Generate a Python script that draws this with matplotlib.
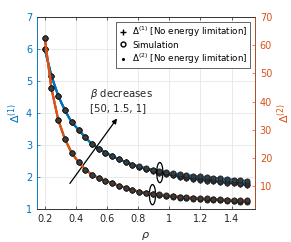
import numpy as np
import matplotlib
matplotlib.use('Agg')
import matplotlib.pyplot as plt
from matplotlib.lines import Line2D
from matplotlib.patches import Ellipse

# rho sample points
rho = [0.2, 0.243, 0.287, 0.33, 0.373, 0.417, 0.46, 0.503, 0.547, 0.59,
       0.633, 0.677, 0.72, 0.763, 0.807, 0.85, 0.893, 0.937, 0.98, 1.023,
       1.067, 1.11, 1.153, 1.197, 1.24, 1.283, 1.327, 1.37, 1.413, 1.457, 1.5]

# Delta^(1) (left axis), beta = 50, 1.5, 1
d1_common = [6.0, 5.16, 4.53, 4.08, 3.71, 3.48, 3.24, 3.03, 2.89, 2.76,
             2.66, 2.55, 2.47, 2.39]
d1_b50 = d1_common + [2.31, 2.25, 2.19, 2.14, 2.09, 2.05, 2.01, 1.98, 1.95,
                      1.92, 1.89, 1.87, 1.84, 1.82, 1.80, 1.78, 1.75]
d1_b15 = d1_common + [2.32, 2.26, 2.21, 2.16, 2.12, 2.08, 2.04, 2.01, 1.98,
                      1.96, 1.93, 1.91, 1.89, 1.87, 1.85, 1.83, 1.81]
d1_b1 = d1_common + [2.33, 2.28, 2.23, 2.19, 2.15, 2.12, 2.09, 2.06, 2.04,
                     2.02, 2.0, 1.98, 1.96, 1.94, 1.92, 1.90, 1.88]

# Delta^(2) (right axis), beta = 50, 1.5, 1
d2_common = [62.6, 44.7, 33.5, 26.7, 21.9, 18.6, 16.0, 14.2, 13.0, 12.0,
             11.2, 10.2, 9.6, 8.8]
d2_b50 = d2_common + [8.0, 7.6, 7.2, 6.9, 6.6, 6.35, 6.1, 5.9, 5.7,
                      5.5, 5.35, 5.2, 5.05, 4.9, 4.8, 4.65, 4.5]
d2_b15 = d2_common + [8.1, 7.7, 7.35, 7.05, 6.75, 6.5, 6.25, 6.05, 5.85,
                      5.7, 5.55, 5.4, 5.25, 5.1, 5.0, 4.9, 4.8]
d2_b1 = d2_common + [8.2, 7.8, 7.5, 7.2, 6.9, 6.65, 6.45, 6.25, 6.05,
                     5.9, 5.75, 5.6, 5.5, 5.35, 5.25, 5.15, 5.05]

blue = '#0072BD'
orange = '#D95319'
dark = '#262626'

plt.rcParams['font.family'] = 'DejaVu Sans'
fig = plt.figure(figsize=(2.91, 2.42), dpi=100)
ax = fig.add_axes([0.127, 0.136, 0.749, 0.794])
ax2 = ax.twinx()

mk = dict(marker='o', ms=3.7, mec='#1a1a1a', mfc='#3c3c3c', mew=0.6, ls='none', zorder=5)

for y in [d1_b50, d1_b15, d1_b1]:
    ax.plot(rho, y, color=blue, lw=1.5, zorder=3)
ax.plot(rho, d1_b50, marker='+', color='k', ls='none', ms=4, zorder=4)
for y in [d1_b50, d1_b15, d1_b1]:
    ax.plot(rho, y, **mk)

for y in [d2_b50, d2_b15, d2_b1]:
    ax2.plot(rho, y, color=orange, lw=1.5, zorder=3)
ax2.plot(rho, d2_b50, marker='.', color='k', ls='none', ms=3, zorder=4)
for y in [d2_b50, d2_b15, d2_b1]:
    ax2.plot(rho, y, **mk)

ax.set_xlim(0.15, 1.55)
ax.set_ylim(1, 7)
ax2.set_ylim(2, 70)
ax.set_xticks([0.2, 0.4, 0.6, 0.8, 1, 1.2, 1.4])
ax.set_xticklabels(['0.2', '0.4', '0.6', '0.8', '1', '1.2', '1.4'])
ax.set_yticks([1, 2, 3, 4, 5, 6, 7])
ax2.set_yticks([10, 20, 30, 40, 50, 60, 70])

ax.grid(True, color='#e6e6e6', lw=0.6)
ax.set_axisbelow(True)

fs = 7
ax.tick_params(axis='x', direction='in', labelsize=fs, colors=dark, length=2.5, width=0.5, top=True)
ax.tick_params(axis='y', direction='in', labelsize=fs, colors=blue, length=2.5, width=0.5)
ax2.tick_params(axis='y', direction='in', labelsize=fs, colors=orange, length=2.5, width=0.5)
ax.spines['left'].set_color(blue)
ax.spines['bottom'].set_color(dark)
ax.spines['top'].set_color(dark)
ax2.spines['right'].set_color(orange)
ax2.spines['left'].set_color(blue)
ax2.spines['top'].set_color(dark)
ax2.spines['bottom'].set_color(dark)
for a in (ax, ax2):
    for s in a.spines.values():
        s.set_linewidth(0.5)

ax.set_ylabel(r'$\Delta^{(1)}$', color=blue, fontsize=8, labelpad=2)
ax2.set_ylabel(r'$\Delta^{(2)}$', color=orange, fontsize=8, labelpad=2)
ax.set_xlabel(r'$\rho$', color=dark, fontsize=8, labelpad=4)

# annotation
ax.annotate('', xy=(0.675, 3.9), xytext=(0.351, 1.73),
            arrowprops=dict(arrowstyle='-|>', color='k', lw=0.9, mutation_scale=7),
            zorder=6)
ax.text(0.49, 4.0, r'$\beta$ decreases' + '\n[50, 1.5, 1]', fontsize=7.3,
        ha='left', va='bottom', color=dark, linespacing=1.3, zorder=6)

ax.add_patch(Ellipse((0.939, 2.14), 0.04, 0.63, fill=False, ec='k', lw=0.9, zorder=7))
ax.add_patch(Ellipse((0.892, 1.45), 0.04, 0.63, fill=False, ec='k', lw=0.9, zorder=7))

handles = [Line2D([], [], marker='+', color='k', ls='none', ms=4),
           Line2D([], [], marker='o', mfc='none', mec='k', ls='none', ms=3.5),
           Line2D([], [], marker='.', color='k', ls='none', ms=2.5)]
labels = [r'$\Delta^{(1)}$ [No energy limitation]', 'Simulation',
          r'$\Delta^{(2)}$ [No energy limitation]']
leg = ax2.legend(handles, labels, loc='upper right', fontsize=6.3,
                 bbox_to_anchor=(0.978, 0.975), borderaxespad=0,
                 handlelength=1.0, handletextpad=0.5, borderpad=0.3,
                 labelspacing=0.2, fancybox=False, framealpha=1)
leg.get_frame().set_edgecolor(dark)
leg.get_frame().set_linewidth(0.5)
leg.set_zorder(10)

fig.savefig('out.png', dpi=100)
